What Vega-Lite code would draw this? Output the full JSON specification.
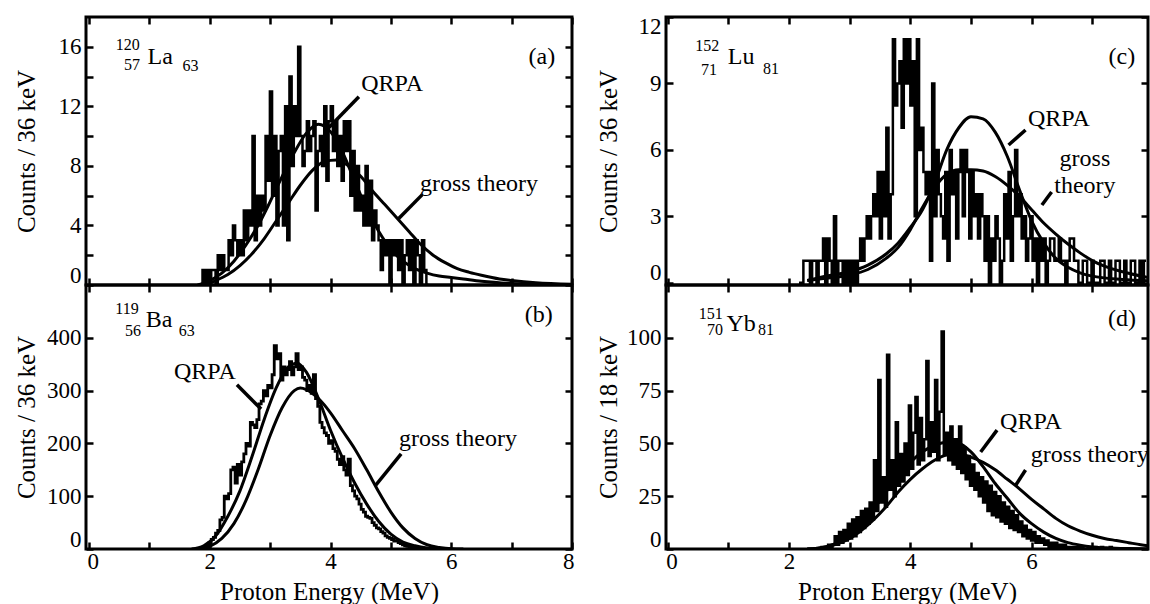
{
"$schema":"https://vega.github.io/schema/vega-lite/v6.json",
"background":"white",
"padding":{"left":12,"top":13,"right":0,"bottom":0},
"config":{
 "view":{"stroke":"black","strokeWidth":3},
 "axis":{"domain":false,"grid":false,"tickColor":"black","tickWidth":2.5,"tickSize":-7,"labelFont":"Liberation Serif","labelFontSize":23,"labelColor":"black","labelFlush":5,"labelFlushOffset":2,"labelOverlap":false,"titleFont":"Liberation Serif","titleFontSize":25,"titleFontWeight":"normal","titleColor":"black"}
},
"datasets":{
 "ha":[{"e":1.844,"c":0},{"e":1.88,"c":1},{"e":1.916,"c":0},{"e":1.952,"c":1},{"e":1.988,"c":0},{"e":2.024,"c":1},{"e":2.06,"c":1},{"e":2.096,"c":0},{"e":2.132,"c":2},{"e":2.168,"c":1},{"e":2.204,"c":2},{"e":2.24,"c":1},{"e":2.276,"c":1},{"e":2.312,"c":3},{"e":2.348,"c":2},{"e":2.384,"c":4},{"e":2.42,"c":3},{"e":2.456,"c":2},{"e":2.492,"c":3},{"e":2.528,"c":2},{"e":2.564,"c":5},{"e":2.6,"c":3},{"e":2.636,"c":5},{"e":2.672,"c":4},{"e":2.708,"c":10},{"e":2.744,"c":3},{"e":2.78,"c":6},{"e":2.816,"c":4},{"e":2.852,"c":6},{"e":2.888,"c":5},{"e":2.924,"c":10},{"e":2.96,"c":7},{"e":2.996,"c":13},{"e":3.032,"c":6},{"e":3.068,"c":10},{"e":3.104,"c":4},{"e":3.14,"c":9},{"e":3.176,"c":10},{"e":3.212,"c":4},{"e":3.248,"c":12},{"e":3.284,"c":3},{"e":3.32,"c":14},{"e":3.356,"c":8},{"e":3.392,"c":12},{"e":3.428,"c":10},{"e":3.464,"c":16},{"e":3.5,"c":10},{"e":3.536,"c":8},{"e":3.572,"c":9},{"e":3.608,"c":11},{"e":3.644,"c":9},{"e":3.68,"c":10},{"e":3.716,"c":11},{"e":3.752,"c":5},{"e":3.788,"c":9},{"e":3.824,"c":10},{"e":3.86,"c":8},{"e":3.896,"c":12},{"e":3.932,"c":7},{"e":3.968,"c":11},{"e":4.004,"c":12},{"e":4.04,"c":9},{"e":4.076,"c":11},{"e":4.112,"c":8},{"e":4.148,"c":10},{"e":4.184,"c":7},{"e":4.22,"c":11},{"e":4.256,"c":9},{"e":4.292,"c":11},{"e":4.328,"c":6},{"e":4.364,"c":9},{"e":4.4,"c":5},{"e":4.436,"c":8},{"e":4.472,"c":5},{"e":4.508,"c":6},{"e":4.544,"c":4},{"e":4.58,"c":8},{"e":4.616,"c":4},{"e":4.652,"c":7},{"e":4.688,"c":3},{"e":4.724,"c":5},{"e":4.76,"c":4},{"e":4.796,"c":3},{"e":4.832,"c":1},{"e":4.868,"c":3},{"e":4.904,"c":2},{"e":4.94,"c":3},{"e":4.976,"c":0},{"e":5.012,"c":3},{"e":5.048,"c":2},{"e":5.084,"c":3},{"e":5.12,"c":1},{"e":5.156,"c":3},{"e":5.192,"c":0},{"e":5.228,"c":2},{"e":5.264,"c":3},{"e":5.3,"c":1},{"e":5.336,"c":3},{"e":5.372,"c":0},{"e":5.408,"c":3},{"e":5.444,"c":2},{"e":5.48,"c":0},{"e":5.516,"c":3},{"e":5.552,"c":1},{"e":5.588,"c":0},{"e":5.624,"c":0}],
 "qa":[{"m":"Q","e":1.8,"c":0},{"m":"Q","e":2.0,"c":0.3},{"m":"Q","e":2.2,"c":0.8},{"m":"Q","e":2.4,"c":1.6},{"m":"Q","e":2.6,"c":2.7},{"m":"Q","e":2.8,"c":4.0},{"m":"Q","e":3.0,"c":5.6},{"m":"Q","e":3.2,"c":7.3},{"m":"Q","e":3.4,"c":8.9},{"m":"Q","e":3.6,"c":10.2},{"m":"Q","e":3.8,"c":10.8},{"m":"Q","e":4.0,"c":10.3},{"m":"Q","e":4.2,"c":8.9},{"m":"Q","e":4.4,"c":7.0},{"m":"Q","e":4.6,"c":5.1},{"m":"Q","e":4.8,"c":3.6},{"m":"Q","e":5.0,"c":2.4},{"m":"Q","e":5.2,"c":1.6},{"m":"Q","e":5.4,"c":1.1},{"m":"Q","e":5.6,"c":0.8},{"m":"Q","e":5.8,"c":0.6},{"m":"Q","e":6.0,"c":0.5},{"m":"Q","e":6.2,"c":0.4},{"m":"Q","e":6.5,"c":0.25},{"m":"Q","e":7.0,"c":0.1},{"m":"Q","e":7.5,"c":0.03},{"m":"Q","e":8.0,"c":0},
  {"m":"G","e":1.9,"c":0},{"m":"G","e":2.1,"c":0.3},{"m":"G","e":2.3,"c":0.7},{"m":"G","e":2.5,"c":1.3},{"m":"G","e":2.7,"c":2.1},{"m":"G","e":2.9,"c":3.1},{"m":"G","e":3.1,"c":4.3},{"m":"G","e":3.3,"c":5.5},{"m":"G","e":3.5,"c":6.7},{"m":"G","e":3.7,"c":7.7},{"m":"G","e":3.9,"c":8.3},{"m":"G","e":4.1,"c":8.4},{"m":"G","e":4.3,"c":8.0},{"m":"G","e":4.5,"c":7.3},{"m":"G","e":4.7,"c":6.3},{"m":"G","e":4.9,"c":5.4},{"m":"G","e":5.1,"c":4.5},{"m":"G","e":5.3,"c":3.6},{"m":"G","e":5.5,"c":2.7},{"m":"G","e":5.7,"c":2.0},{"m":"G","e":5.9,"c":1.5},{"m":"G","e":6.1,"c":1.1},{"m":"G","e":6.3,"c":0.85},{"m":"G","e":6.5,"c":0.65},{"m":"G","e":6.8,"c":0.4},{"m":"G","e":7.0,"c":0.3},{"m":"G","e":7.4,"c":0.15},{"m":"G","e":8.0,"c":0.05}],
 "pa":[{"e":4.47,"c":12.65,"e2":3.93,"c2":10.4},{"e":5.52,"c":6.07,"e2":5.13,"c2":4.46}],
 "ba":[{"t":"La","e":1.18,"c":15.3},{"t":"(a)","e":7.5,"c":15.3},{"t":"QRPA","e":5.02,"c":13.5},{"t":"gross theory","e":6.46,"c":6.8}],
 "sa":[{"t":"120","e":0.64,"c":16.15},{"t":"57","e":0.71,"c":14.75},{"t":"63","e":1.68,"c":14.7}],
 "hb":[{"e":1.844,"c":0},{"e":1.88,"c":2},{"e":1.916,"c":5},{"e":1.952,"c":8},{"e":1.988,"c":12},{"e":2.024,"c":18},{"e":2.06,"c":22},{"e":2.096,"c":30},{"e":2.132,"c":35},{"e":2.168,"c":55},{"e":2.204,"c":60},{"e":2.24,"c":100},{"e":2.276,"c":95},{"e":2.312,"c":105},{"e":2.348,"c":150},{"e":2.384,"c":155},{"e":2.42,"c":125},{"e":2.456,"c":160},{"e":2.492,"c":140},{"e":2.528,"c":165},{"e":2.564,"c":180},{"e":2.6,"c":200},{"e":2.636,"c":195},{"e":2.672,"c":240},{"e":2.708,"c":235},{"e":2.744,"c":230},{"e":2.78,"c":245},{"e":2.816,"c":275},{"e":2.852,"c":280},{"e":2.888,"c":300},{"e":2.924,"c":290},{"e":2.96,"c":310},{"e":2.996,"c":305},{"e":3.032,"c":330},{"e":3.068,"c":385},{"e":3.104,"c":360},{"e":3.14,"c":370},{"e":3.176,"c":320},{"e":3.212,"c":345},{"e":3.248,"c":330},{"e":3.284,"c":340},{"e":3.32,"c":355},{"e":3.356,"c":330},{"e":3.392,"c":345},{"e":3.428,"c":370},{"e":3.464,"c":340},{"e":3.5,"c":345},{"e":3.536,"c":325},{"e":3.572,"c":320},{"e":3.608,"c":300},{"e":3.644,"c":310},{"e":3.68,"c":295},{"e":3.716,"c":330},{"e":3.752,"c":285},{"e":3.788,"c":270},{"e":3.824,"c":240},{"e":3.86,"c":230},{"e":3.896,"c":220},{"e":3.932,"c":215},{"e":3.968,"c":200},{"e":4.004,"c":205},{"e":4.04,"c":190},{"e":4.076,"c":185},{"e":4.112,"c":170},{"e":4.148,"c":160},{"e":4.184,"c":175},{"e":4.22,"c":150},{"e":4.256,"c":140},{"e":4.292,"c":170},{"e":4.328,"c":120},{"e":4.364,"c":110},{"e":4.4,"c":100},{"e":4.436,"c":95},{"e":4.472,"c":85},{"e":4.508,"c":75},{"e":4.544,"c":70},{"e":4.58,"c":62},{"e":4.616,"c":60},{"e":4.652,"c":58},{"e":4.688,"c":50},{"e":4.724,"c":45},{"e":4.76,"c":40},{"e":4.796,"c":38},{"e":4.832,"c":33},{"e":4.868,"c":30},{"e":4.904,"c":25},{"e":4.94,"c":22},{"e":4.976,"c":20},{"e":5.012,"c":18},{"e":5.048,"c":15},{"e":5.084,"c":16},{"e":5.12,"c":12},{"e":5.156,"c":10},{"e":5.192,"c":8},{"e":5.228,"c":6},{"e":5.264,"c":5},{"e":5.3,"c":4},{"e":5.336,"c":5},{"e":5.372,"c":3},{"e":5.408,"c":2},{"e":5.444,"c":2},{"e":5.48,"c":1},{"e":5.516,"c":0}],
 "qb":[{"m":"Q","e":1.7,"c":0},{"m":"Q","e":1.9,"c":6},{"m":"Q","e":2.1,"c":25},{"m":"Q","e":2.3,"c":62},{"m":"Q","e":2.5,"c":110},{"m":"Q","e":2.7,"c":175},{"m":"Q","e":2.9,"c":245},{"m":"Q","e":3.1,"c":305},{"m":"Q","e":3.3,"c":345},{"m":"Q","e":3.45,"c":352},{"m":"Q","e":3.6,"c":335},{"m":"Q","e":3.8,"c":285},{"m":"Q","e":4.0,"c":225},{"m":"Q","e":4.2,"c":172},{"m":"Q","e":4.4,"c":125},{"m":"Q","e":4.6,"c":85},{"m":"Q","e":4.8,"c":52},{"m":"Q","e":5.0,"c":28},{"m":"Q","e":5.2,"c":13},{"m":"Q","e":5.4,"c":6},{"m":"Q","e":5.6,"c":2},{"m":"Q","e":5.8,"c":0.5},{"m":"Q","e":6.0,"c":0},
  {"m":"G","e":1.8,"c":0},{"m":"G","e":2.0,"c":5},{"m":"G","e":2.2,"c":20},{"m":"G","e":2.4,"c":48},{"m":"G","e":2.6,"c":92},{"m":"G","e":2.8,"c":150},{"m":"G","e":3.0,"c":215},{"m":"G","e":3.2,"c":268},{"m":"G","e":3.4,"c":300},{"m":"G","e":3.5,"c":305},{"m":"G","e":3.6,"c":302},{"m":"G","e":3.8,"c":285},{"m":"G","e":4.0,"c":258},{"m":"G","e":4.2,"c":224},{"m":"G","e":4.4,"c":190},{"m":"G","e":4.6,"c":150},{"m":"G","e":4.8,"c":108},{"m":"G","e":5.0,"c":70},{"m":"G","e":5.2,"c":40},{"m":"G","e":5.4,"c":20},{"m":"G","e":5.6,"c":8},{"m":"G","e":5.8,"c":3},{"m":"G","e":6.0,"c":0.5},{"m":"G","e":6.2,"c":0}],
 "pb":[{"e":2.45,"c":311,"e2":2.85,"c2":265},{"e":5.17,"c":180,"e2":4.75,"c2":121}],
 "bb":[{"t":"Ba","e":1.16,"c":434},{"t":"(b)","e":7.45,"c":443},{"t":"QRPA","e":1.92,"c":335},{"t":"gross theory","e":6.11,"c":208}],
 "sb":[{"t":"119","e":0.63,"c":455},{"t":"56","e":0.73,"c":413},{"t":"63","e":1.62,"c":413}],
 "hc":[{"e":2.164,"c":0},{"e":2.2,"c":0},{"e":2.236,"c":1},{"e":2.272,"c":1},{"e":2.308,"c":1},{"e":2.344,"c":0},{"e":2.38,"c":1},{"e":2.416,"c":1},{"e":2.452,"c":0},{"e":2.488,"c":1},{"e":2.524,"c":1},{"e":2.56,"c":2},{"e":2.596,"c":0},{"e":2.632,"c":2},{"e":2.668,"c":1},{"e":2.704,"c":0},{"e":2.74,"c":3},{"e":2.776,"c":0},{"e":2.812,"c":1},{"e":2.848,"c":1},{"e":2.884,"c":0},{"e":2.92,"c":1},{"e":2.956,"c":0},{"e":2.992,"c":1},{"e":3.028,"c":0},{"e":3.064,"c":1},{"e":3.1,"c":0},{"e":3.136,"c":1},{"e":3.172,"c":2},{"e":3.208,"c":1},{"e":3.244,"c":2},{"e":3.28,"c":3},{"e":3.316,"c":2},{"e":3.352,"c":3},{"e":3.388,"c":4},{"e":3.424,"c":3},{"e":3.46,"c":5},{"e":3.496,"c":2},{"e":3.532,"c":5},{"e":3.568,"c":3},{"e":3.604,"c":7},{"e":3.64,"c":2},{"e":3.676,"c":4},{"e":3.712,"c":11},{"e":3.748,"c":8},{"e":3.784,"c":9},{"e":3.82,"c":10},{"e":3.856,"c":7},{"e":3.892,"c":11},{"e":3.928,"c":9},{"e":3.964,"c":11},{"e":4.0,"c":8},{"e":4.036,"c":10},{"e":4.072,"c":3},{"e":4.108,"c":11},{"e":4.144,"c":6},{"e":4.18,"c":7},{"e":4.216,"c":5},{"e":4.252,"c":4},{"e":4.288,"c":5},{"e":4.324,"c":1},{"e":4.36,"c":9},{"e":4.396,"c":3},{"e":4.432,"c":6},{"e":4.468,"c":4},{"e":4.504,"c":3},{"e":4.54,"c":2},{"e":4.576,"c":5},{"e":4.612,"c":1},{"e":4.648,"c":6},{"e":4.684,"c":4},{"e":4.72,"c":5},{"e":4.756,"c":2},{"e":4.792,"c":5},{"e":4.828,"c":6},{"e":4.864,"c":3},{"e":4.9,"c":6},{"e":4.936,"c":5},{"e":4.972,"c":2},{"e":5.008,"c":5},{"e":5.044,"c":3},{"e":5.08,"c":4},{"e":5.116,"c":2},{"e":5.152,"c":4},{"e":5.188,"c":3},{"e":5.224,"c":1},{"e":5.26,"c":3},{"e":5.296,"c":0},{"e":5.332,"c":2},{"e":5.368,"c":1},{"e":5.404,"c":3},{"e":5.44,"c":2},{"e":5.476,"c":0},{"e":5.512,"c":1},{"e":5.548,"c":4},{"e":5.584,"c":2},{"e":5.62,"c":5},{"e":5.656,"c":1},{"e":5.692,"c":3},{"e":5.728,"c":6},{"e":5.764,"c":3},{"e":5.8,"c":4},{"e":5.836,"c":2},{"e":5.872,"c":3},{"e":5.908,"c":1},{"e":5.944,"c":2},{"e":5.98,"c":3},{"e":6.016,"c":1},{"e":6.052,"c":2},{"e":6.088,"c":0},{"e":6.124,"c":2},{"e":6.16,"c":1},{"e":6.196,"c":2},{"e":6.232,"c":0},{"e":6.268,"c":1},{"e":6.304,"c":2},{"e":6.34,"c":2},{"e":6.376,"c":1},{"e":6.412,"c":1},{"e":6.448,"c":2},{"e":6.484,"c":1},{"e":6.52,"c":1},{"e":6.556,"c":0},{"e":6.592,"c":1},{"e":6.628,"c":2},{"e":6.664,"c":2},{"e":6.7,"c":1},{"e":6.736,"c":1},{"e":6.772,"c":0},{"e":6.808,"c":0},{"e":6.844,"c":1},{"e":6.88,"c":1},{"e":6.916,"c":0},{"e":6.952,"c":0},{"e":6.988,"c":1},{"e":7.024,"c":0},{"e":7.06,"c":0},{"e":7.096,"c":0},{"e":7.132,"c":1},{"e":7.168,"c":1},{"e":7.204,"c":0},{"e":7.24,"c":0},{"e":7.276,"c":1},{"e":7.312,"c":0},{"e":7.348,"c":0},{"e":7.384,"c":1},{"e":7.42,"c":1},{"e":7.456,"c":0},{"e":7.492,"c":0},{"e":7.528,"c":1},{"e":7.564,"c":0},{"e":7.6,"c":0},{"e":7.636,"c":1},{"e":7.672,"c":1},{"e":7.708,"c":0},{"e":7.744,"c":0},{"e":7.78,"c":1},{"e":7.816,"c":0},{"e":7.852,"c":1},{"e":7.888,"c":1}],
 "qc":[{"m":"Q","e":2.3,"c":0.1},{"m":"Q","e":2.6,"c":0.3},{"m":"Q","e":3.0,"c":0.5},{"m":"Q","e":3.3,"c":0.8},{"m":"Q","e":3.6,"c":1.3},{"m":"Q","e":3.8,"c":1.8},{"m":"Q","e":4.0,"c":2.5},{"m":"Q","e":4.2,"c":3.3},{"m":"Q","e":4.4,"c":4.5},{"m":"Q","e":4.6,"c":6.0},{"m":"Q","e":4.8,"c":7.0},{"m":"Q","e":5.0,"c":7.5},{"m":"Q","e":5.2,"c":7.4},{"m":"Q","e":5.4,"c":6.8},{"m":"Q","e":5.6,"c":5.7},{"m":"Q","e":5.8,"c":4.2},{"m":"Q","e":6.0,"c":2.8},{"m":"Q","e":6.2,"c":1.8},{"m":"Q","e":6.4,"c":1.1},{"m":"Q","e":6.6,"c":0.7},{"m":"Q","e":6.8,"c":0.45},{"m":"Q","e":7.0,"c":0.3},{"m":"Q","e":7.5,"c":0.15},{"m":"Q","e":8.0,"c":0.08},
  {"m":"G","e":2.3,"c":0.1},{"m":"G","e":2.6,"c":0.2},{"m":"G","e":3.0,"c":0.35},{"m":"G","e":3.3,"c":0.6},{"m":"G","e":3.6,"c":1.1},{"m":"G","e":3.8,"c":1.6},{"m":"G","e":4.0,"c":2.4},{"m":"G","e":4.2,"c":3.4},{"m":"G","e":4.4,"c":4.3},{"m":"G","e":4.6,"c":4.9},{"m":"G","e":4.8,"c":5.1},{"m":"G","e":5.0,"c":5.1},{"m":"G","e":5.2,"c":5.05},{"m":"G","e":5.4,"c":4.8},{"m":"G","e":5.6,"c":4.4},{"m":"G","e":5.8,"c":3.9},{"m":"G","e":6.0,"c":3.3},{"m":"G","e":6.2,"c":2.7},{"m":"G","e":6.4,"c":2.2},{"m":"G","e":6.6,"c":1.75},{"m":"G","e":6.8,"c":1.35},{"m":"G","e":7.0,"c":1.0},{"m":"G","e":7.2,"c":0.75},{"m":"G","e":7.5,"c":0.5},{"m":"G","e":8.0,"c":0.2}],
 "pc":[{"e":5.9,"c":6.9,"e2":5.62,"c2":6.22},{"e":6.33,"c":4.1,"e2":6.17,"c2":3.51}],
 "bc":[{"t":"Lu","e":1.21,"c":10.2},{"t":"(c)","e":7.49,"c":10.2},{"t":"QRPA","e":6.45,"c":7.4},{"t":"gross","e":6.88,"c":5.58},{"t":"theory","e":6.88,"c":4.36}],
 "sc":[{"t":"152","e":0.65,"c":10.7},{"t":"71","e":0.68,"c":9.6},{"t":"81","e":1.7,"c":9.65}],
 "hd":[{"e":2.464,"c":0},{"e":2.5,"c":0},{"e":2.536,"c":1},{"e":2.572,"c":0},{"e":2.608,"c":1},{"e":2.644,"c":2},{"e":2.68,"c":1},{"e":2.716,"c":2},{"e":2.752,"c":6},{"e":2.788,"c":2},{"e":2.824,"c":8},{"e":2.86,"c":3},{"e":2.896,"c":9},{"e":2.932,"c":4},{"e":2.968,"c":12},{"e":3.004,"c":5},{"e":3.04,"c":14},{"e":3.076,"c":6},{"e":3.112,"c":15},{"e":3.148,"c":8},{"e":3.184,"c":18},{"e":3.22,"c":10},{"e":3.256,"c":19},{"e":3.292,"c":12},{"e":3.328,"c":22},{"e":3.364,"c":14},{"e":3.4,"c":42},{"e":3.436,"c":18},{"e":3.472,"c":80},{"e":3.508,"c":22},{"e":3.544,"c":34},{"e":3.58,"c":20},{"e":3.616,"c":92},{"e":3.652,"c":28},{"e":3.688,"c":42},{"e":3.724,"c":25},{"e":3.76,"c":60},{"e":3.796,"c":30},{"e":3.832,"c":45},{"e":3.868,"c":32},{"e":3.904,"c":50},{"e":3.94,"c":35},{"e":3.976,"c":68},{"e":4.012,"c":38},{"e":4.048,"c":55},{"e":4.084,"c":72},{"e":4.12,"c":40},{"e":4.156,"c":62},{"e":4.192,"c":42},{"e":4.228,"c":52},{"e":4.264,"c":89},{"e":4.3,"c":44},{"e":4.336,"c":60},{"e":4.372,"c":46},{"e":4.408,"c":80},{"e":4.444,"c":42},{"e":4.48,"c":65},{"e":4.516,"c":103},{"e":4.552,"c":45},{"e":4.588,"c":55},{"e":4.624,"c":42},{"e":4.66,"c":58},{"e":4.696,"c":40},{"e":4.732,"c":52},{"e":4.768,"c":38},{"e":4.804,"c":58},{"e":4.84,"c":36},{"e":4.876,"c":48},{"e":4.912,"c":33},{"e":4.948,"c":44},{"e":4.984,"c":30},{"e":5.02,"c":40},{"e":5.056,"c":28},{"e":5.092,"c":36},{"e":5.128,"c":25},{"e":5.164,"c":34},{"e":5.2,"c":22},{"e":5.236,"c":32},{"e":5.272,"c":18},{"e":5.308,"c":30},{"e":5.344,"c":16},{"e":5.38,"c":27},{"e":5.416,"c":15},{"e":5.452,"c":25},{"e":5.488,"c":13},{"e":5.524,"c":22},{"e":5.56,"c":12},{"e":5.596,"c":20},{"e":5.632,"c":10},{"e":5.668,"c":18},{"e":5.704,"c":9},{"e":5.74,"c":16},{"e":5.776,"c":8},{"e":5.812,"c":13},{"e":5.848,"c":6},{"e":5.884,"c":11},{"e":5.92,"c":5},{"e":5.956,"c":9},{"e":5.992,"c":4},{"e":6.028,"c":8},{"e":6.064,"c":3},{"e":6.1,"c":6},{"e":6.136,"c":3},{"e":6.172,"c":5},{"e":6.208,"c":2},{"e":6.244,"c":4},{"e":6.28,"c":1},{"e":6.316,"c":3},{"e":6.352,"c":1},{"e":6.388,"c":3},{"e":6.424,"c":1},{"e":6.46,"c":2},{"e":6.496,"c":0},{"e":6.532,"c":2},{"e":6.568,"c":1},{"e":6.604,"c":1},{"e":6.64,"c":0},{"e":6.676,"c":1},{"e":6.712,"c":0},{"e":6.748,"c":1},{"e":6.784,"c":0},{"e":6.82,"c":1},{"e":6.856,"c":0},{"e":6.892,"c":0},{"e":6.928,"c":1},{"e":6.964,"c":0},{"e":7.0,"c":0},{"e":7.036,"c":1},{"e":7.072,"c":0},{"e":7.108,"c":0},{"e":7.144,"c":1},{"e":7.18,"c":0},{"e":7.216,"c":0},{"e":7.252,"c":0},{"e":7.288,"c":1},{"e":7.324,"c":0},{"e":7.36,"c":0}],
 "qd":[{"m":"Q","e":2.3,"c":0},{"m":"Q","e":2.6,"c":1},{"m":"Q","e":2.8,"c":3},{"m":"Q","e":3.0,"c":7},{"m":"Q","e":3.2,"c":12},{"m":"Q","e":3.4,"c":19},{"m":"Q","e":3.6,"c":27},{"m":"Q","e":3.8,"c":35},{"m":"Q","e":4.0,"c":41},{"m":"Q","e":4.2,"c":46},{"m":"Q","e":4.4,"c":49},{"m":"Q","e":4.6,"c":50.5},{"m":"Q","e":4.8,"c":50},{"m":"Q","e":5.0,"c":46},{"m":"Q","e":5.2,"c":39},{"m":"Q","e":5.4,"c":31},{"m":"Q","e":5.6,"c":24},{"m":"Q","e":5.8,"c":17},{"m":"Q","e":6.0,"c":12},{"m":"Q","e":6.2,"c":8},{"m":"Q","e":6.4,"c":5},{"m":"Q","e":6.6,"c":3},{"m":"Q","e":6.8,"c":1.8},{"m":"Q","e":7.0,"c":1},{"m":"Q","e":7.3,"c":0.5},{"m":"Q","e":7.6,"c":0.2},{"m":"Q","e":8.0,"c":0.1},
  {"m":"G","e":2.3,"c":0},{"m":"G","e":2.6,"c":1},{"m":"G","e":2.8,"c":2.5},{"m":"G","e":3.0,"c":5},{"m":"G","e":3.2,"c":9},{"m":"G","e":3.4,"c":14},{"m":"G","e":3.6,"c":20},{"m":"G","e":3.8,"c":27},{"m":"G","e":4.0,"c":33},{"m":"G","e":4.2,"c":38},{"m":"G","e":4.4,"c":42},{"m":"G","e":4.6,"c":44.5},{"m":"G","e":4.8,"c":45},{"m":"G","e":5.0,"c":43.5},{"m":"G","e":5.2,"c":41},{"m":"G","e":5.4,"c":37.5},{"m":"G","e":5.6,"c":33},{"m":"G","e":5.8,"c":28.5},{"m":"G","e":6.0,"c":23.5},{"m":"G","e":6.2,"c":19},{"m":"G","e":6.4,"c":14.5},{"m":"G","e":6.6,"c":11},{"m":"G","e":6.8,"c":8.5},{"m":"G","e":7.0,"c":6.5},{"m":"G","e":7.2,"c":5},{"m":"G","e":7.4,"c":4},{"m":"G","e":7.6,"c":3},{"m":"G","e":7.8,"c":2},{"m":"G","e":8.0,"c":1.3}],
 "pd":[{"e":5.43,"c":56.3,"e2":5.16,"c2":45.9},{"e":5.9,"c":37.4,"e2":5.74,"c2":30.3}],
 "bd":[{"t":"Yb","e":1.21,"c":106.5},{"t":"(d)","e":7.49,"c":108.9},{"t":"QRPA","e":5.99,"c":60.1},{"t":"gross theory","e":6.96,"c":44.5}],
 "sd":[{"t":"151","e":0.71,"c":111.5},{"t":"70","e":0.78,"c":103.5},{"t":"81","e":1.62,"c":103.8}]
},
"columns":2,
"spacing":{"row":0,"column":94},
"bounds":"flush",
"concat":[
 {"width":486,"height":268,
  "layer":[
   {"data":{"name":"ha"},"mark":{"type":"line","interpolate":"step-after","color":"black","strokeWidth":2.5,"clip":true},
    "encoding":{"x":{"field":"e","type":"quantitative","scale":{"domain":[-0.05,8],"nice":false,"zero":false},"axis":{"orient":"bottom","values":[0,1,2,3,4,5,6,7,8],"labels":false,"title":null}},
                "y":{"field":"c","type":"quantitative","scale":{"domain":[0,18],"nice":false,"zero":false},"axis":{"orient":"left","values":[0,2,4,6,8,10,12,14,16],"labelExpr":"datum.value % 4 ? '' : datum.label","labelPadding":12,"title":"Counts / 36 keV","titleFont":"Liberation Serif","titleX":-60,"titleBaseline":"middle"}}}},
   {"data":{"name":"qa"},"mark":{"type":"line","interpolate":"monotone","color":"black","strokeWidth":3,"clip":true},
    "encoding":{"x":{"field":"e","type":"quantitative","scale":{"domain":[-0.05,8],"nice":false,"zero":false},"axis":{"orient":"top","values":[0,1,2,3,4,5,6,7,8],"labels":false,"title":null}},
                "y":{"field":"c","type":"quantitative","scale":{"domain":[0,18],"nice":false,"zero":false},"axis":{"orient":"right","values":[0,2,4,6,8,10,12,14,16],"labels":false,"title":null}},
                "detail":{"field":"m"}}},
   {"data":{"name":"pa"},"mark":{"type":"rule","color":"black","strokeWidth":3.5},
    "encoding":{"x":{"field":"e","type":"quantitative","scale":{"domain":[-0.05,8],"nice":false,"zero":false},"axis":null},"y":{"field":"c","type":"quantitative","scale":{"domain":[0,18],"nice":false,"zero":false},"axis":null},"x2":{"field":"e2"},"y2":{"field":"c2"}}},
   {"data":{"name":"ba"},"mark":{"type":"text","font":"Liberation Serif","fontSize":24,"color":"black"},
    "encoding":{"x":{"field":"e","type":"quantitative","scale":{"domain":[-0.05,8],"nice":false,"zero":false},"axis":null},"y":{"field":"c","type":"quantitative","scale":{"domain":[0,18],"nice":false,"zero":false},"axis":null},"text":{"field":"t"}}},
   {"data":{"name":"sa"},"mark":{"type":"text","font":"Liberation Serif","fontSize":16,"color":"black"},
    "encoding":{"x":{"field":"e","type":"quantitative","scale":{"domain":[-0.05,8],"nice":false,"zero":false},"axis":null},"y":{"field":"c","type":"quantitative","scale":{"domain":[0,18],"nice":false,"zero":false},"axis":null},"text":{"field":"t"}}}
  ],
  "resolve":{"axis":{"x":"independent","y":"independent"}}
 },
 {"width":482,"height":268,
  "layer":[
   {"data":{"name":"hc"},"mark":{"type":"line","interpolate":"step-after","color":"black","strokeWidth":2.5,"clip":true},
    "encoding":{"x":{"field":"e","type":"quantitative","scale":{"domain":[-0.03,7.92],"nice":false,"zero":false},"axis":{"orient":"bottom","values":[0,1,2,3,4,5,6,7],"labels":false,"title":null}},
                "y":{"field":"c","type":"quantitative","scale":{"domain":[-0.1,12],"nice":false,"zero":false},"axis":{"orient":"left","values":[0,3,6,9,12],"labelPadding":12,"title":"Counts / 36 keV","titleFont":"Liberation Serif","titleX":-58,"titleBaseline":"middle"}}}},
   {"data":{"name":"qc"},"mark":{"type":"line","interpolate":"monotone","color":"black","strokeWidth":3,"clip":true},
    "encoding":{"x":{"field":"e","type":"quantitative","scale":{"domain":[-0.03,7.92],"nice":false,"zero":false},"axis":{"orient":"top","values":[0,1,2,3,4,5,6,7],"labels":false,"title":null}},
                "y":{"field":"c","type":"quantitative","scale":{"domain":[-0.1,12],"nice":false,"zero":false},"axis":{"orient":"right","values":[0,3,6,9,12],"labels":false,"title":null}},
                "detail":{"field":"m"}}},
   {"data":{"name":"pc"},"mark":{"type":"rule","color":"black","strokeWidth":3.5},
    "encoding":{"x":{"field":"e","type":"quantitative","scale":{"domain":[-0.03,7.92],"nice":false,"zero":false},"axis":null},"y":{"field":"c","type":"quantitative","scale":{"domain":[-0.1,12],"nice":false,"zero":false},"axis":null},"x2":{"field":"e2"},"y2":{"field":"c2"}}},
   {"data":{"name":"bc"},"mark":{"type":"text","font":"Liberation Serif","fontSize":24,"color":"black"},
    "encoding":{"x":{"field":"e","type":"quantitative","scale":{"domain":[-0.03,7.92],"nice":false,"zero":false},"axis":null},"y":{"field":"c","type":"quantitative","scale":{"domain":[-0.1,12],"nice":false,"zero":false},"axis":null},"text":{"field":"t"}}},
   {"data":{"name":"sc"},"mark":{"type":"text","font":"Liberation Serif","fontSize":16,"color":"black"},
    "encoding":{"x":{"field":"e","type":"quantitative","scale":{"domain":[-0.03,7.92],"nice":false,"zero":false},"axis":null},"y":{"field":"c","type":"quantitative","scale":{"domain":[-0.1,12],"nice":false,"zero":false},"axis":null},"text":{"field":"t"}}}
  ],
  "resolve":{"axis":{"x":"independent","y":"independent"}}
 },
 {"width":486,"height":264,
  "layer":[
   {"data":{"name":"hb"},"mark":{"type":"line","interpolate":"step-after","color":"black","strokeWidth":2.8,"clip":true},
    "encoding":{"x":{"field":"e","type":"quantitative","scale":{"domain":[-0.05,8],"nice":false,"zero":false},"axis":{"orient":"bottom","values":[0,1,2,3,4,5,6,7,8],"labelExpr":"datum.value % 2 ? '' : datum.label","labelPadding":8,"title":"Proton Energy (MeV)","titleFont":"Liberation Serif","titleY":42,"titleBaseline":"middle"}},
                "y":{"field":"c","type":"quantitative","scale":{"domain":[0,500],"nice":false,"zero":false},"axis":{"orient":"left","values":[0,100,200,300,400],"labelPadding":12,"title":"Counts / 36 keV","titleFont":"Liberation Serif","titleX":-60,"titleBaseline":"middle"}}}},
   {"data":{"name":"qb"},"mark":{"type":"line","interpolate":"monotone","color":"black","strokeWidth":3,"clip":true},
    "encoding":{"x":{"field":"e","type":"quantitative","scale":{"domain":[-0.05,8],"nice":false,"zero":false},"axis":{"orient":"top","values":[0,1,2,3,4,5,6,7,8],"labels":false,"title":null}},
                "y":{"field":"c","type":"quantitative","scale":{"domain":[0,500],"nice":false,"zero":false},"axis":{"orient":"right","values":[0,100,200,300,400],"labels":false,"title":null}},
                "detail":{"field":"m"}}},
   {"data":{"name":"pb"},"mark":{"type":"rule","color":"black","strokeWidth":3.5},
    "encoding":{"x":{"field":"e","type":"quantitative","scale":{"domain":[-0.05,8],"nice":false,"zero":false},"axis":null},"y":{"field":"c","type":"quantitative","scale":{"domain":[0,500],"nice":false,"zero":false},"axis":null},"x2":{"field":"e2"},"y2":{"field":"c2"}}},
   {"data":{"name":"bb"},"mark":{"type":"text","font":"Liberation Serif","fontSize":24,"color":"black"},
    "encoding":{"x":{"field":"e","type":"quantitative","scale":{"domain":[-0.05,8],"nice":false,"zero":false},"axis":null},"y":{"field":"c","type":"quantitative","scale":{"domain":[0,500],"nice":false,"zero":false},"axis":null},"text":{"field":"t"}}},
   {"data":{"name":"sb"},"mark":{"type":"text","font":"Liberation Serif","fontSize":16,"color":"black"},
    "encoding":{"x":{"field":"e","type":"quantitative","scale":{"domain":[-0.05,8],"nice":false,"zero":false},"axis":null},"y":{"field":"c","type":"quantitative","scale":{"domain":[0,500],"nice":false,"zero":false},"axis":null},"text":{"field":"t"}}}
  ],
  "resolve":{"axis":{"x":"independent","y":"independent"}}
 },
 {"width":482,"height":264,
  "layer":[
   {"data":{"name":"hd"},"mark":{"type":"line","interpolate":"step-after","color":"black","strokeWidth":2.5,"clip":true},
    "encoding":{"x":{"field":"e","type":"quantitative","scale":{"domain":[-0.03,7.92],"nice":false,"zero":false},"axis":{"orient":"bottom","values":[0,1,2,3,4,5,6,7],"labelExpr":"datum.value % 2 ? '' : datum.label","labelPadding":8,"title":"Proton Energy (MeV)","titleFont":"Liberation Serif","titleY":42,"titleBaseline":"middle"}},
                "y":{"field":"c","type":"quantitative","scale":{"domain":[0,125],"nice":false,"zero":false},"axis":{"orient":"left","values":[0,25,50,75,100],"labelPadding":12,"title":"Counts / 18 keV","titleFont":"Liberation Serif","titleX":-58,"titleBaseline":"middle"}}}},
   {"data":{"name":"qd"},"mark":{"type":"line","interpolate":"monotone","color":"black","strokeWidth":3,"clip":true},
    "encoding":{"x":{"field":"e","type":"quantitative","scale":{"domain":[-0.03,7.92],"nice":false,"zero":false},"axis":{"orient":"top","values":[0,1,2,3,4,5,6,7],"labels":false,"title":null}},
                "y":{"field":"c","type":"quantitative","scale":{"domain":[0,125],"nice":false,"zero":false},"axis":{"orient":"right","values":[0,25,50,75,100],"labels":false,"title":null}},
                "detail":{"field":"m"}}},
   {"data":{"name":"pd"},"mark":{"type":"rule","color":"black","strokeWidth":3.5},
    "encoding":{"x":{"field":"e","type":"quantitative","scale":{"domain":[-0.03,7.92],"nice":false,"zero":false},"axis":null},"y":{"field":"c","type":"quantitative","scale":{"domain":[0,125],"nice":false,"zero":false},"axis":null},"x2":{"field":"e2"},"y2":{"field":"c2"}}},
   {"data":{"name":"bd"},"mark":{"type":"text","font":"Liberation Serif","fontSize":24,"color":"black"},
    "encoding":{"x":{"field":"e","type":"quantitative","scale":{"domain":[-0.03,7.92],"nice":false,"zero":false},"axis":null},"y":{"field":"c","type":"quantitative","scale":{"domain":[0,125],"nice":false,"zero":false},"axis":null},"text":{"field":"t"}}},
   {"data":{"name":"sd"},"mark":{"type":"text","font":"Liberation Serif","fontSize":16,"color":"black"},
    "encoding":{"x":{"field":"e","type":"quantitative","scale":{"domain":[-0.03,7.92],"nice":false,"zero":false},"axis":null},"y":{"field":"c","type":"quantitative","scale":{"domain":[0,125],"nice":false,"zero":false},"axis":null},"text":{"field":"t"}}}
  ],
  "resolve":{"axis":{"x":"independent","y":"independent"}}
 }
]
}
